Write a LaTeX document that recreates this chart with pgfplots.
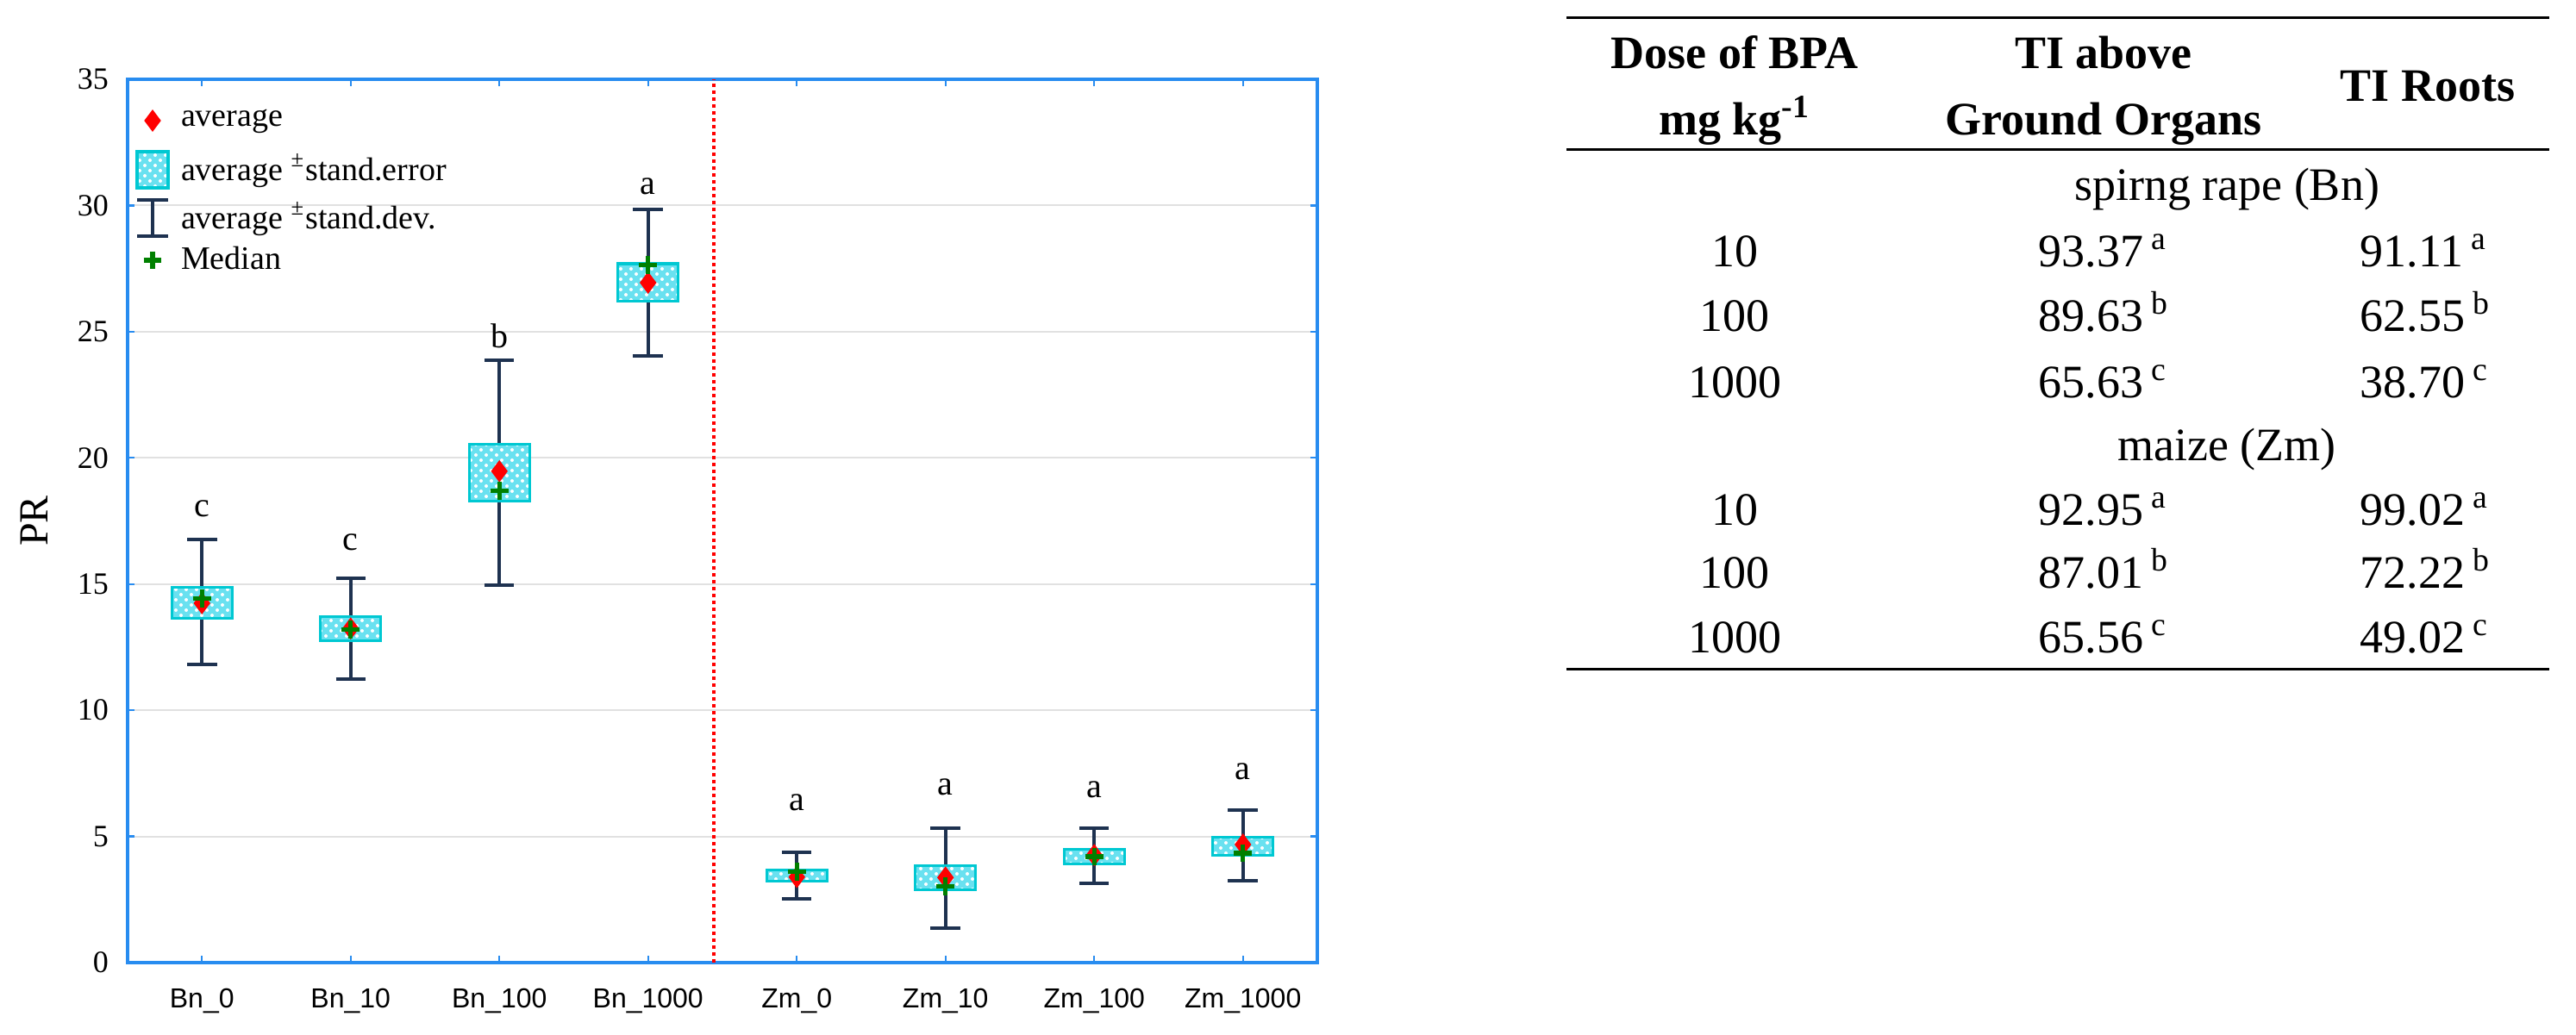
\documentclass[border=0pt]{standalone}
\usepackage{fontspec}
\setmainfont{Liberation Serif}
\newfontfamily\sansf{Liberation Sans}
\usepackage{pgfplots}
\pgfplotsset{compat=1.18}
\usepgfplotslibrary{statistics}
\usetikzlibrary{patterns}
\definecolor{axisblue}{RGB}{40,140,240}
\definecolor{boxborder}{RGB}{0,200,210}
\definecolor{boxfill}{RGB}{105,225,240}
\definecolor{whisk}{RGB}{30,50,80}
\definecolor{medgreen}{RGB}{0,128,0}
\definecolor{gridgray}{RGB}{225,225,225}
\newcommand\tabfont{\fontsize{13.5}{16}\selectfont}
\newcommand\letfont{\fontsize{10}{12}\selectfont}
\begin{document}
\begin{tikzpicture}
\useasboundingbox (0,0) rectangle (747pt,300pt);
\begin{axis}[
  at={(37pt,20.75pt)}, anchor=south west,
  scale only axis, width=345pt, height=256.25pt,
  xmin=-0.5, xmax=7.5, ymin=0, ymax=35,
  xtick={0,1,2,3,4,5,6,7},
  xticklabels={Bn\_0,Bn\_10,Bn\_100,Bn\_1000,Zm\_0,Zm\_10,Zm\_100,Zm\_1000},
  ytick={0,5,10,15,20,25,30,35},
  tick align=inside,
  major tick length=2pt,
  axis line style={axisblue, line width=0.9pt},
  tick style={axisblue, line width=0.6pt},
  ymajorgrids, grid style={gridgray, line width=0.5pt},
  /pgf/number format/assume math mode=true,
  yticklabel style={font=\fontsize{9}{10}\selectfont, xshift=-2pt},
  xticklabel style={font=\sansf\fontsize{8}{9}\selectfont, yshift=-4pt},
  ylabel={PR},
  every axis y label/.style={at={(axis description cs:-0.0783,0.5)}, rotate=90, anchor=center, font=\fontsize{12}{14}\selectfont},
  boxplot/draw direction=y,
  boxplot/box extend=0.405,
  boxplot/whisker extend=0.2,
  boxplot/every box/.style={draw=boxborder, line width=0.8pt, fill=boxfill, postaction={pattern=crosshatch dots, pattern color=white}},
  boxplot/every whisker/.style={draw=whisk, line width=1pt},
  boxplot/every median/.style={draw=none},
  legend cell align=left,
  legend style={draw=none, fill=none, inner sep=0pt, outer sep=0pt,
    at={(axis description cs:0,1)}, anchor=north west, xshift=2.25pt, yshift=-5.25pt,
    row sep=0pt, column sep=3.25pt, font=\fontsize{9.5}{11}\selectfont,
    nodes={inner sep=0pt}},
]
\addlegendimage{legend image code/.code={\path[draw=none, fill=none] (0pt,-7.125pt) rectangle (9pt,6.75pt);
  \draw[red, fill=red, mark=diamond*, mark size=2.9pt] plot coordinates {(4.5pt,0pt)};}}
\addlegendentry{average}
\addlegendimage{legend image code/.code={\path[draw=none, fill=none] (0pt,-7pt) rectangle (9pt,7.125pt);
  \draw[boxborder, line width=0.8pt, fill=boxfill, postaction={pattern=crosshatch dots, pattern color=white}] (0pt,-5.25pt) rectangle (9pt,5.25pt);}}
\addlegendentry{average \textsuperscript{±}stand.error}
\addlegendimage{legend image code/.code={\path[draw=none, fill=none] (0pt,-6.125pt) rectangle (9pt,7pt);
  \draw[whisk, line width=1pt] (0pt,5.25pt)--(9pt,5.25pt) (4.5pt,5.25pt)--(4.5pt,-5.25pt) (0pt,-5.25pt)--(9pt,-5.25pt);}}
\addlegendentry{average \textsuperscript{±}stand.dev.}
\addlegendimage{legend image code/.code={\path[draw=none, fill=none] (0pt,-6.75pt) rectangle (9pt,6.125pt);
  \draw[medgreen, line width=1.3pt, mark=+, mark size=2.6pt] plot coordinates {(4.5pt,0pt)};}}
\addlegendentry{Median}

% separator
\addplot[forget plot, red, line width=1pt, densely dotted] coordinates {(3.44,0) (3.44,35)};

% boxes: whiskers = mean -/+ sd, box = mean -/+ se
\addplot[forget plot, boxplot prepared={draw position=0, lower whisker=11.81, lower quartile=13.63, median=14.24, upper quartile=14.88, upper whisker=16.76}] coordinates {};
\addplot[forget plot, boxplot prepared={draw position=1, lower whisker=11.22, lower quartile=12.76, median=13.24, upper quartile=13.72, upper whisker=15.24}] coordinates {};
\addplot[forget plot, boxplot prepared={draw position=2, lower whisker=14.97, lower quartile=18.28, median=19.47, upper quartile=20.55, upper whisker=23.87}] coordinates {};
\addplot[forget plot, boxplot prepared={draw position=3, lower whisker=24.04, lower quartile=26.20, median=26.94, upper quartile=27.69, upper whisker=29.86}] coordinates {};
\addplot[forget plot, boxplot prepared={draw position=4, lower whisker=2.52, lower quartile=3.22, median=3.39, upper quartile=3.68, upper whisker=4.36}] coordinates {};
\addplot[forget plot, boxplot prepared={draw position=5, lower whisker=1.38, lower quartile=2.88, median=3.37, upper quartile=3.85, upper whisker=5.32}] coordinates {};
\addplot[forget plot, boxplot prepared={draw position=6, lower whisker=3.14, lower quartile=3.92, median=4.26, upper quartile=4.49, upper whisker=5.32}] coordinates {};
\addplot[forget plot, boxplot prepared={draw position=7, lower whisker=3.23, lower quartile=4.26, median=4.68, upper quartile=4.96, upper whisker=6.03}] coordinates {};

% averages
\addplot[forget plot, only marks, mark=diamond*, mark size=2.9pt, red, mark options={fill=red, draw=red}]
  coordinates {(0,14.24) (1,13.24) (2,19.47) (3,26.94) (4,3.39) (5,3.37) (6,4.26) (7,4.68)};
% medians
\addplot[forget plot, only marks, mark=+, mark size=2.6pt, medgreen, mark options={line width=1.3pt}]
  coordinates {(0,14.44) (1,13.20) (2,18.70) (3,27.63) (4,3.60) (5,3.03) (6,4.20) (7,4.34)};

% group letters
\node[font=\letfont] at (axis cs:0,18.0) {c};
\node[font=\letfont] at (axis cs:1,16.66) {c};
\node[font=\letfont] at (axis cs:2,24.84) {b};
\node[font=\letfont] at (axis cs:3,30.74) {a};
\node[font=\letfont] at (axis cs:4,6.33) {a};
\node[font=\letfont] at (axis cs:5,6.96) {a};
\node[font=\letfont] at (axis cs:6,6.85) {a};
\node[font=\letfont] at (axis cs:7,7.58) {a};
\end{axis}

% table
\begin{scope}[yshift=300pt, x=0.25pt, y=-0.25pt]
\draw[line width=0.75pt] (1817,21)--(2957,21);
\draw[line width=0.75pt] (1817,174)--(2957,174);
\draw[line width=0.75pt] (1817,777)--(2957,777);
\node[anchor=base, font=\tabfont\bfseries, inner sep=0pt] at (2012,80) {Dose of BPA};
\node[anchor=base, font=\tabfont\bfseries, inner sep=0pt] at (2012,157) {mg kg\textsuperscript{-1}};
\node[anchor=base, font=\tabfont\bfseries, inner sep=0pt] at (2440,80) {TI above};
\node[anchor=base, font=\tabfont\bfseries, inner sep=0pt] at (2440,157) {Ground Organs};
\node[anchor=base, font=\tabfont\bfseries, inner sep=0pt] at (2816,118) {TI Roots};
\node[anchor=base, font=\tabfont, inner sep=0pt] at (2583,233) {spirng rape (Bn)};
\node[anchor=base, font=\tabfont, inner sep=0pt] at (2012,310) {10};
\node[anchor=base, font=\tabfont, inner sep=0pt] at (2012,385) {100};
\node[anchor=base, font=\tabfont, inner sep=0pt] at (2012,462) {1000};
\node[anchor=base west, font=\tabfont, inner sep=0pt] at (2364,310) {93.37\,\textsuperscript{a}};
\node[anchor=base west, font=\tabfont, inner sep=0pt] at (2364,385) {89.63\,\textsuperscript{b}};
\node[anchor=base west, font=\tabfont, inner sep=0pt] at (2364,462) {65.63\,\textsuperscript{c}};
\node[anchor=base west, font=\tabfont, inner sep=0pt] at (2737,310) {91.11\,\textsuperscript{a}};
\node[anchor=base west, font=\tabfont, inner sep=0pt] at (2737,385) {62.55\,\textsuperscript{b}};
\node[anchor=base west, font=\tabfont, inner sep=0pt] at (2737,462) {38.70\,\textsuperscript{c}};
\node[anchor=base, font=\tabfont, inner sep=0pt] at (2583,535) {maize (Zm)};
\node[anchor=base, font=\tabfont, inner sep=0pt] at (2012,610) {10};
\node[anchor=base, font=\tabfont, inner sep=0pt] at (2012,683) {100};
\node[anchor=base, font=\tabfont, inner sep=0pt] at (2012,758) {1000};
\node[anchor=base west, font=\tabfont, inner sep=0pt] at (2364,610) {92.95\,\textsuperscript{a}};
\node[anchor=base west, font=\tabfont, inner sep=0pt] at (2364,683) {87.01\,\textsuperscript{b}};
\node[anchor=base west, font=\tabfont, inner sep=0pt] at (2364,758) {65.56\,\textsuperscript{c}};
\node[anchor=base west, font=\tabfont, inner sep=0pt] at (2737,610) {99.02\,\textsuperscript{a}};
\node[anchor=base west, font=\tabfont, inner sep=0pt] at (2737,683) {72.22\,\textsuperscript{b}};
\node[anchor=base west, font=\tabfont, inner sep=0pt] at (2737,758) {49.02\,\textsuperscript{c}};
\end{scope}
\end{tikzpicture}
\end{document}
